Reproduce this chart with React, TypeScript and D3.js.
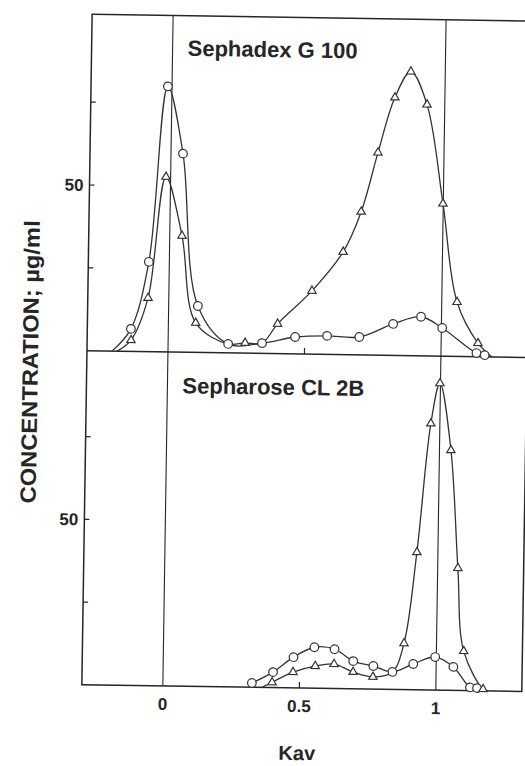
import * as d3 from "d3";

const W = 525;
const H = 766;
// the scanned figure sits a little clockwise
const tilt = 0.88;

const frameLeft = 87;
const frameRight = 527;
const frameTop = 17.5;
const frameMid = 354;
const frameBottom = 688;

const kavTicks = [0.5];
const kavTickValues = [0, 0.5, 1];
const kavTickText = ["0", "0.5", "1"];
const kavRefLines = [0, 1];
const concTicks = [25, 50, 75];
const concLabelled = [50];

// Sephadex G 100, open circles
const g100CircleKav = [-0.205, -0.137, -0.075, -0.015, 0.044, 0.107, 0.22, 0.344, 0.465, 0.582, 0.7, 0.823, 0.925, 1.003, 1.13, 1.16];
const g100CircleConc = [0, 6.8, 27.1, 80.1, 59.9, 14, 2.7, 3.1, 5.1, 5.6, 5.4, 9.5, 11.8, 8.5, 1.1, 0.5];
const g100CircleMark = [0, 1, 1, 1, 1, 1, 1, 1, 1, 1, 1, 1, 1, 1, 1, 1];

// Sephadex G 100, open triangles
const g100TriKav = [-0.187, -0.136, -0.076, -0.017, 0.045, 0.1, 0.22, 0.282, 0.344, 0.4, 0.524, 0.636, 0.7, 0.758, 0.817, 0.874, 0.935, 0.999, 1.056, 1.135, 1.187];
const g100TriConc = [0, 3.4, 16.2, 52.8, 35.1, 8.9, 2.7, 3.1, 3.1, 9.0, 19.1, 31, 43.2, 61.1, 77.8, 85.7, 75.8, 46, 16.4, 4.1, 0];
const g100TriMark = [0, 1, 1, 1, 1, 1, 0, 1, 0, 1, 1, 1, 1, 1, 1, 1, 1, 1, 1, 1, 0];

// Sepharose CL 2B, open circles
const cl2bCircleKav = [0.326, 0.403, 0.477, 0.553, 0.627, 0.696, 0.77, 0.84, 0.916, 0.996, 1.063, 1.125, 1.151];
const cl2bCircleConc = [1.3, 4.7, 9.3, 12.4, 11.9, 8.4, 7.0, 5.3, 7.8, 10, 7.1, 1, 0.8];
const cl2bCircleMark = [1, 1, 1, 1, 1, 1, 1, 1, 1, 1, 1, 1, 1];

// Sepharose CL 2B, open triangles
const cl2bTriKav = [0.363, 0.4, 0.476, 0.557, 0.626, 0.696, 0.769, 0.84, 0.881, 0.923, 0.967, 0.998, 1.042, 1.074, 1.1, 1.173, 1.19];
const cl2bTriConc = [0, 1.6, 4.8, 6.7, 7.4, 5.1, 3.7, 5.3, 14, 41.6, 80.6, 92.8, 72.6, 37, 11.9, 0.5, 0];
const cl2bTriMark = [0, 1, 1, 1, 1, 1, 1, 0, 1, 1, 1, 1, 1, 1, 1, 1, 0];

type Pt = { k: number; c: number; m: number };
const zip = (k: number[], c: number[], m: number[]): Pt[] =>
  k.map((v, i) => ({ k: v, c: c[i], m: m[i] }));

const ink = "#262626";
const font = "'Liberation Sans', Arial, sans-serif";

export default function App() {
  const x = d3.scaleLinear().domain([0, 1]).range([168, 441]);
  const yTop = d3.scaleLinear().domain([0, 101.5]).range([frameMid, frameTop]);
  const yBot = d3.scaleLinear().domain([0, 101]).range([frameBottom, frameMid]);
  const tri = d3.symbol().type(d3.symbolTriangle).size(30)() ?? "";

  const panels = [
    {
      y: yTop,
      title: "Sephadex G 100",
      titleY: 57.5,
      circles: zip(g100CircleKav, g100CircleConc, g100CircleMark),
      triangles: zip(g100TriKav, g100TriConc, g100TriMark),
    },
    {
      y: yBot,
      title: "Sepharose CL 2B",
      titleY: 395,
      circles: zip(cl2bCircleKav, cl2bCircleConc, cl2bCircleMark),
      triangles: zip(cl2bTriKav, cl2bTriConc, cl2bTriMark),
    },
  ];

  return (
    <svg
      width={W}
      height={H}
      viewBox={`0 0 ${W} ${H}`}
      style={{ position: "absolute", left: 0, top: 0, background: "#fff" }}
    >
      <g transform={`rotate(${tilt}, 300, 350)`}>
        {/* frame */}
        <rect
          x={frameLeft}
          y={frameTop}
          width={frameRight - frameLeft}
          height={frameBottom - frameTop}
          fill="none"
          stroke={ink}
          strokeWidth={1.5}
        />
        <line x1={frameLeft} x2={frameRight} y1={frameMid} y2={frameMid} stroke={ink} strokeWidth={1.5} />
        {kavRefLines.map((k) => (
          <line key={k} x1={x(k)} x2={x(k)} y1={frameTop} y2={frameBottom} stroke={ink} strokeWidth={1.1} />
        ))}

        {panels.map((p) => {
          const line = d3
            .line<Pt>()
            .x((d) => x(d.k))
            .y((d) => p.y(d.c))
            .curve(d3.curveCatmullRom.alpha(0.5));
          const base = p.y(0);
          return (
            <g key={p.title}>
              {concTicks.map((t) => (
                <line key={t} x1={frameLeft} x2={frameLeft + 5} y1={p.y(t)} y2={p.y(t)} stroke={ink} strokeWidth={1.2} />
              ))}
              {concLabelled.map((t) => (
                <text
                  key={t}
                  x={frameLeft - 6}
                  y={p.y(t) + 6}
                  textAnchor="end"
                  fontFamily={font}
                  fontWeight="bold"
                  fontSize={17}
                  fill={ink}
                >
                  {t}
                </text>
              ))}
              {kavTicks.map((k) => (
                <line key={k} x1={x(k)} x2={x(k)} y1={base} y2={base - 6} stroke={ink} strokeWidth={1.2} />
              ))}
              <text
                x={183}
                y={p.titleY}
                fontFamily={font}
                fontWeight="bold"
                fontSize={22}
                fill={ink}
              >
                {p.title}
              </text>
              <path d={line(p.circles) ?? ""} fill="none" stroke="#333" strokeWidth={1.3} />
              <path d={line(p.triangles) ?? ""} fill="none" stroke="#333" strokeWidth={1.3} />
              {p.circles
                .filter((d) => d.m)
                .map((d, i) => (
                  <circle key={i} cx={x(d.k)} cy={p.y(d.c)} r={4.3} fill="#fff" stroke="#333" strokeWidth={1.2} />
                ))}
              {p.triangles
                .filter((d) => d.m)
                .map((d, i) => (
                  <path
                    key={i}
                    d={tri}
                    transform={`translate(${x(d.k)}, ${p.y(d.c)})`}
                    fill="#fff"
                    stroke="#333"
                    strokeWidth={1.2}
                  />
                ))}
            </g>
          );
        })}

        {kavTickValues.map((k, i) => (
          <text
            key={k}
            x={x(k)}
            y={712}
            textAnchor="middle"
            fontFamily={font}
            fontWeight="bold"
            fontSize={17}
            fill={ink}
          >
            {kavTickText[i]}
          </text>
        ))}
        <text x={303} y={760} textAnchor="middle" fontFamily={font} fontWeight="bold" fontSize={20} fill={ink}>
          Kav
        </text>
        <text
          transform="translate(38, 366) rotate(-90)"
          textAnchor="middle"
          fontFamily={font}
          fontWeight="bold"
          fontSize={22}
          textLength={283}
          lengthAdjust="spacingAndGlyphs"
          fill={ink}
        >
          CONCENTRATION; µg/ml
        </text>
      </g>
    </svg>
  );
}
